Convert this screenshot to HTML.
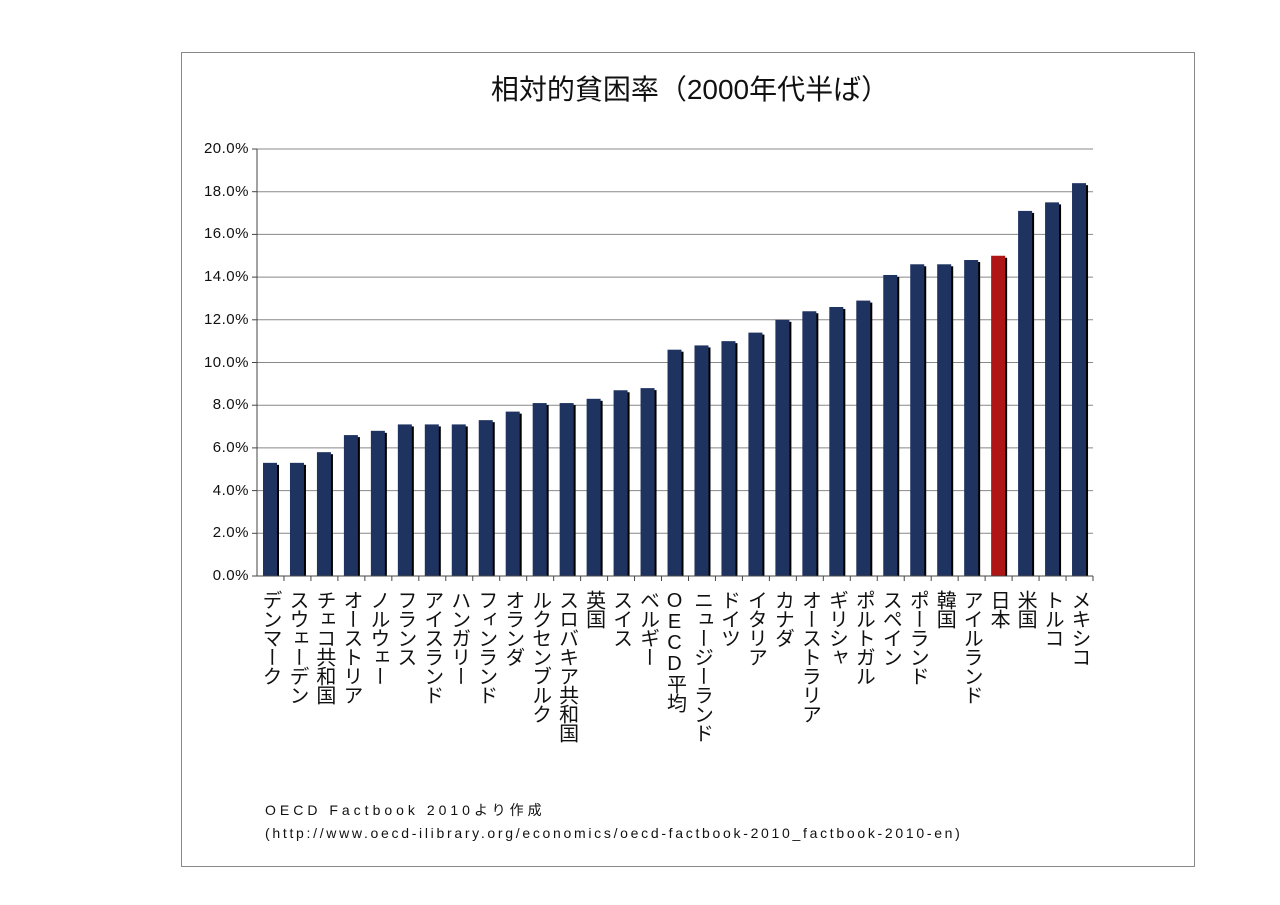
<!DOCTYPE html>
<html><head><meta charset="utf-8"><style>
body{margin:0;background:#fff;width:1280px;height:905px;overflow:hidden;font-family:"Liberation Sans","Noto Sans CJK JP",sans-serif}
#frame{position:absolute;left:181px;top:52px;width:1014px;height:815px;border:1px solid #888;box-sizing:border-box}
#title{position:absolute;left:0;width:1280px;top:68px;text-align:center;font-size:28px;color:#111;padding-left:100px;box-sizing:border-box}
.ylab{position:absolute;font-size:15px;color:#111;text-align:right;width:80px;letter-spacing:0.5px}
.xlab{position:absolute;writing-mode:vertical-rl;text-orientation:upright;font-size:20px;line-height:20px;color:#111;letter-spacing:-1px}
.note{position:absolute;left:265px;font-size:14px;color:#111;letter-spacing:2.7px}
</style></head><body>
<div id="frame"></div>
<div id="title">相対的貧困率（2000年代半ば）</div>
<svg id="plot" width="1280" height="905" style="position:absolute;left:0;top:0"></svg>
<div class="note" style="top:800px;letter-spacing:4px">OECD Factbook 2010より作成</div>
<div class="note" style="top:825px">(http://www.oecd-ilibrary.org/economics/oecd-factbook-2010_factbook-2010-en)</div>
<script>
const categories=["デンマーク","スウェーデン","チェコ共和国","オーストリア","ノルウェー","フランス","アイスランド","ハンガリー","フィンランド","オランダ","ルクセンブルク","スロバキア共和国","英国","スイス","ベルギー","OECD平均","ニュージーランド","ドイツ","イタリア","カナダ","オーストラリア","ギリシャ","ポルトガル","スペイン","ポーランド","韓国","アイルランド","日本","米国","トルコ","メキシコ"];
const values=[5.3,5.3,5.8,6.6,6.8,7.1,7.1,7.1,7.3,7.7,8.1,8.1,8.3,8.7,8.8,10.6,10.8,11.0,11.4,12.0,12.4,12.6,12.9,14.1,14.6,14.6,14.8,15.0,17.1,17.5,18.4];
const ticks=[0,2,4,6,8,10,12,14,16,18,20];
const x0=257,x1=1093,yb=576,yt=149,ymax=20;
const y=v=>yb-(v/ymax)*(yb-yt);
const cw=(x1-x0)/categories.length;
const svg=document.getElementById('plot');const NS='http://www.w3.org/2000/svg';
function mk(t,a){const e=document.createElementNS(NS,t);for(const k in a)e.setAttribute(k,a[k]);svg.appendChild(e);return e;}
ticks.forEach(t=>{
 const l=mk('line',{x1:x0,x2:x1,y1:y(t),y2:y(t),stroke:'#888','stroke-width':1});
 
 
 const d=document.createElement('div');d.className='ylab';d.style.left=(x0-88)+'px';d.style.top=(y(t)-9)+'px';d.textContent=t.toFixed(1)+'%';
 
 
 document.body.appendChild(d);
 const tk=mk('line',{x1:x0-5,x2:x0,y1:y(t),y2:y(t),stroke:'#444'});
 
 
});
mk('line',{x1:x0,x2:x0,y1:yt,y2:yb,stroke:'#444'});
categories.forEach((c,i)=>{
 const bx=x0+i*cw+6,bw=14,v=values[i],jp=c==='日本';
 const s=mk('rect',{x:bx+2,y:y(v)+2,width:bw,height:yb-y(v)-2,fill:'#000'});
 
 
 const r=mk('rect',{x:bx,y:y(v),width:bw,height:yb-y(v),fill:jp?'#b01515':'#1f3360'});
 
 
 const tk=mk('line',{x1:x0+(i+1)*cw,x2:x0+(i+1)*cw,y1:yb,y2:yb+5,stroke:'#444'});
 
 
 const d=document.createElement('div');d.className='xlab';d.style.left=(x0+i*cw+3)+'px';d.style.top='590px';d.textContent=c;
 
 
 document.body.appendChild(d);
});
mk('line',{x1:x0,x2:x1,y1:yb,y2:yb,stroke:'#444'});
</script>
</body></html>
